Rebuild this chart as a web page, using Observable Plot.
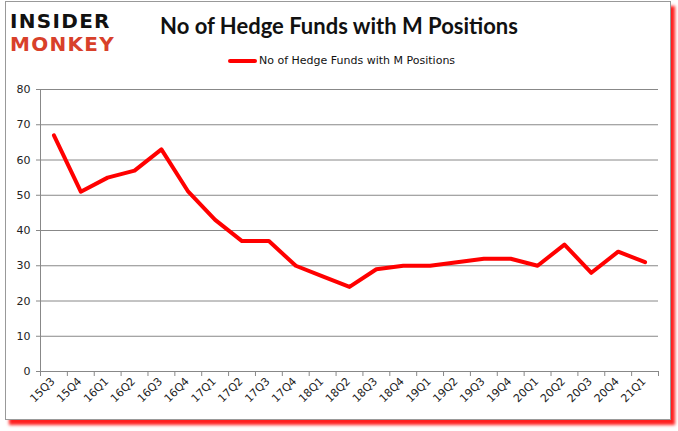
<!DOCTYPE html>
<html>
<head>
<meta charset="utf-8">
<script src="https://cdn.jsdelivr.net/npm/d3@7"></script>
<script src="https://cdn.jsdelivr.net/npm/@observablehq/plot@0.6"></script>
<style>
  html, body { margin: 0; padding: 0; background: #fff; }
  #wrap { position: relative; width: 678px; height: 431px; overflow: hidden; background: #fff; }
  #frame { position: absolute; left: 5px; top: 1px; width: 664px; height: 417px; border: 1px solid #999;
           box-shadow: 4px 5px 3px #ff2020; background: #fff; }
  #chart { position: absolute; left: 0; top: 0; }
  .logo { position: absolute; left: 10px; font-family: "DejaVu Sans", sans-serif; font-weight: bold;
          font-size: 20px; line-height: 20px; height: 20px; letter-spacing: 1.3px; }
  #logo1 { top: 11px; color: #111; }
  #logo2 { top: 34px; color: #d8402a; }
  #title { position: absolute; left: 0; width: 678px; top: 12px; text-align: center;
           font-family: Lato, sans-serif; font-weight: bold; font-size: 22px; color: #111; }
  #legend { position: absolute; left: 228px; top: 54px; font-family: "DejaVu Sans", sans-serif; font-size: 11px; color: #111;
            display: flex; align-items: center; }
  #legend .sw { width: 29px; height: 4px; background: #ff0000; border-radius: 2px; margin-right: 2px; }
</style>
</head>
<body>
<div id="wrap">
  <div id="frame"></div>
  <div id="chart"></div>
  <div class="logo" id="logo1">INSIDER</div>
  <div class="logo" id="logo2">MONKEY</div>
  <div id="title">No of Hedge Funds with M Positions</div>
  <div id="legend"><div class="sw"></div><span>No of Hedge Funds with M Positions</span></div>
</div>
<script>
const quarters = ["15Q3","15Q4","16Q1","16Q2","16Q3","16Q4","17Q1","17Q2","17Q3","17Q4","18Q1","18Q2","18Q3","18Q4","19Q1","19Q2","19Q3","19Q4","20Q1","20Q2","20Q3","20Q4","21Q1"];
const funds = [67,51,55,57,63,51,43,37,37,30,27,24,29,30,30,31,32,32,30,36,28,34,31];
const yTicks = [0,10,20,30,40,50,60,70,80];
const seriesName = "No of Hedge Funds with M Positions";

const data = quarters.map((q, i) => ({q, i, x: i + 0.5, v: funds[i]}));
const centers = quarters.map((q, i) => i + 0.5);
const bounds = d3.range(quarters.length + 1);

const plot = Plot.plot({
  width: 678,
  height: 431,
  marginTop: 89,
  marginBottom: 60,
  marginLeft: 40,
  marginRight: 20,
  style: {background: "transparent", fontFamily: "DejaVu Sans, sans-serif", fontSize: "11px", color: "#222"},
  x: {type: "linear", domain: [0, quarters.length]},
  y: {domain: [0, 80]},
  marks: [
    Plot.ruleY(yTicks.filter(d => d > 0), {stroke: "#888", strokeWidth: 1, strokeOpacity: 1}),
    Plot.ruleX([0], {stroke: "#888", strokeWidth: 1}),
    Plot.ruleY([0], {stroke: "#888", strokeWidth: 1}),
    Plot.axisY({ticks: yTicks, tickSize: 4, tickPadding: 6, stroke: "#888", fill: "#222", fontSize: 11, label: null}),
    Plot.axisX({ticks: bounds, tickSize: 5, text: null, stroke: "#888", label: null}),
    Plot.axisX({ticks: centers, tickSize: 0, tickPadding: 6, tickRotate: -45, fill: "#222", fontSize: 11,
                tickFormat: d => quarters[Math.round(d - 0.5)], label: null, dy: 2, dx: -1}),
    Plot.line(data, {x: "x", y: "v", stroke: "#ff0000", strokeWidth: 4, strokeLinejoin: "round", strokeLinecap: "round"})
  ]
});
document.getElementById("chart").appendChild(plot);
</script>
</body>
</html>
